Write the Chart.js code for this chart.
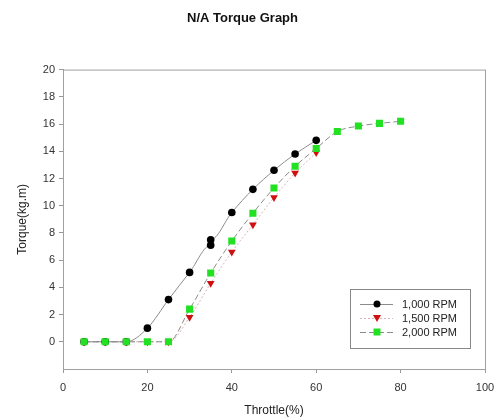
<!DOCTYPE html>
<html>
<head>
<meta charset="utf-8">
<script src="https://cdn.jsdelivr.net/npm/chart.js@4"></script>
<style>
  html, body { margin: 0; padding: 0; background: #fff; }
  #wrap { width: 499px; height: 420px; }
</style>
</head>
<body>
<div id="wrap"><canvas id="chart_torque" width="499" height="420"></canvas></div>
<script>
// throttle (%) and torque (kg.m)
const throttle1000 = [5, 10, 15, 20, 25, 30, 35, 35, 40, 45, 50, 55, 60];
const torque1000 = [0, 0, 0, 1.0, 3.1, 5.1, 7.1, 7.5, 9.5, 11.2, 12.6, 13.8, 14.8];

const throttle1500 = [5, 10, 15, 20, 25, 30, 35, 40, 45, 50, 55, 60];
const torque1500 = [0, 0, 0, 0, 0, 1.8, 4.3, 6.6, 8.6, 10.6, 12.4, 13.9];

const throttle2000 = [5, 10, 15, 20, 25, 30, 35, 40, 45, 50, 55, 60, 65, 70, 75, 80];
const torque2000 = [0, 0, 0, 0, 0, 2.4, 5.05, 7.4, 9.45, 11.3, 12.9, 14.2, 15.45, 15.85, 16.05, 16.2];

const seriesNames = ["1,000 RPM", "1,500 RPM", "2,000 RPM"];
const xTicks = [0, 20, 40, 60, 80, 100];

function toPoints(xs, ys) {
  return xs.map(function (x, i) { return { x: x, y: ys[i] }; });
}

// frame round the plot area
const frame = {
  id: "frame",
  beforeDatasetsDraw: function (chart) {
    const a = chart.chartArea;
    const ctx = chart.ctx;
    ctx.save();
    ctx.strokeStyle = "#a0a0a0";
    ctx.lineWidth = 1;
    ctx.strokeRect(a.left + 0.5, a.top + 0.5, a.right - a.left, a.bottom - a.top);
    ctx.restore();
  }
};

// legend with line sample and marker in the middle
const boxLegend = {
  id: "boxLegend",
  afterDraw: function (chart) {
    const ctx = chart.ctx;
    const x0 = 350, y0 = 289, w = 120, h = 59;
    ctx.save();
    ctx.fillStyle = "#fff";
    ctx.fillRect(x0, y0, w, h);
    ctx.strokeStyle = "#888";
    ctx.lineWidth = 1;
    ctx.strokeRect(x0 + 0.5, y0 + 0.5, w, h);
    chart.data.datasets.forEach(function (ds, i) {
      const cy = y0 + 15 + i * 14;
      ctx.strokeStyle = ds.borderColor;
      ctx.lineWidth = 1;
      ctx.setLineDash(ds.borderDash || []);
      ctx.beginPath();
      ctx.moveTo(x0 + 10, cy + 0.5);
      ctx.lineTo(x0 + 43, cy + 0.5);
      ctx.stroke();
      ctx.setLineDash([]);
      ctx.fillStyle = ds.pointBackgroundColor;
      const cx = x0 + 27;
      ctx.beginPath();
      if (ds.pointStyle === "circle") {
        ctx.arc(cx, cy, 3.5, 0, Math.PI * 2);
      } else if (ds.pointStyle === "rect") {
        ctx.rect(cx - 3.5, cy - 3.5, 7, 7);
      } else {
        ctx.moveTo(cx - 4, cy - 3);
        ctx.lineTo(cx + 4, cy - 3);
        ctx.lineTo(cx, cy + 4);
        ctx.closePath();
      }
      ctx.fill();
      ctx.fillStyle = "#222";
      ctx.font = "11px Arial, 'Liberation Sans', sans-serif";
      ctx.textBaseline = "middle";
      ctx.fillText(ds.label, x0 + 52, cy + 1);
    });
    ctx.restore();
  }
};

new Chart(document.getElementById("chart_torque"), {
  type: "line",
  data: {
    datasets: [
      {
        label: seriesNames[0],
        data: toPoints(throttle1000, torque1000),
        order: 1,
        borderColor: "#8c8c8c",
        borderWidth: 1,
        cubicInterpolationMode: "monotone",
        pointStyle: "circle",
        pointRadius: 3.8,
        pointBackgroundColor: "#000",
        pointBorderColor: "#000",
        pointBorderWidth: 0,
      },
      {
        label: seriesNames[1],
        data: toPoints(throttle1500, torque1500),
        order: 2,
        borderColor: "#d8b4b8",
        borderWidth: 1,
        borderDash: [2, 2],
        cubicInterpolationMode: "monotone",
        pointStyle: "triangle",
        rotation: 180,
        pointRadius: 4.5,
        pointBackgroundColor: "#d01010",
        pointBorderColor: "#d01010",
        pointBorderWidth: 0,
      },
      {
        label: seriesNames[2],
        data: toPoints(throttle2000, torque2000),
        order: 0,
        borderColor: "#8c8c8c",
        borderWidth: 1,
        borderDash: [6, 3],
        cubicInterpolationMode: "monotone",
        pointStyle: "rect",
        pointRadius: 5,
        pointBackgroundColor: "#22e022",
        pointBorderColor: "#22e022",
        pointBorderWidth: 0,
      },
    ],
  },
  options: {
    responsive: false,
    animation: false,
    layout: {
      padding: { left: 0, right: 14, top: 0, bottom: 0 },
    },
    plugins: {
      legend: { display: false },
      tooltip: { enabled: false },
      title: {
        display: true,
        text: "N/A Torque Graph",
        color: "#111",
        font: { family: "Arial, 'Liberation Sans', sans-serif", size: 13, weight: "bold" },
        padding: { top: 11, bottom: 43 },
      },
    },
    scales: {
      x: {
        type: "linear",
        min: 0,
        max: 100,
        afterBuildTicks: function (axis) {
          axis.ticks = xTicks.map(function (v) { return { value: v }; });
        },
        afterFit: function (axis) {
          axis.height = 51;
          axis.paddingRight = 0;
          axis.paddingLeft = 0;
        },
        grid: { drawOnChartArea: false, drawTicks: true, tickLength: 4, color: "#999" },
        border: { display: true, color: "#999" },
        ticks: {
          color: "#333",
          padding: 8,
          maxRotation: 0,
          font: { family: "Arial, 'Liberation Sans', sans-serif", size: 11 },
        },
        title: {
          display: true,
          text: "Throttle(%)",
          color: "#222",
          padding: { top: 2, bottom: 2 },
          font: { family: "Arial, 'Liberation Sans', sans-serif", size: 12 },
        },
      },
      y: {
        min: -2,
        max: 20,
        afterFit: function (axis) { axis.width = 63; },
        afterBuildTicks: function (axis) {
          axis.ticks = axis.ticks.filter(function (t) { return t.value >= 0; });
        },
        grid: { drawOnChartArea: false, drawTicks: true, tickLength: 4, color: "#999" },
        border: { display: true, color: "#999" },
        ticks: {
          stepSize: 2,
          color: "#333",
          padding: 4,
          font: { family: "Arial, 'Liberation Sans', sans-serif", size: 11 },
        },
        title: {
          display: true,
          text: "Torque(kg.m)",
          color: "#222",
          padding: { top: 15, bottom: 6 },
          font: { family: "Arial, 'Liberation Sans', sans-serif", size: 12 },
        },
      },
    },
  },
  plugins: [frame, boxLegend],
});
</script>
</body>
</html>
